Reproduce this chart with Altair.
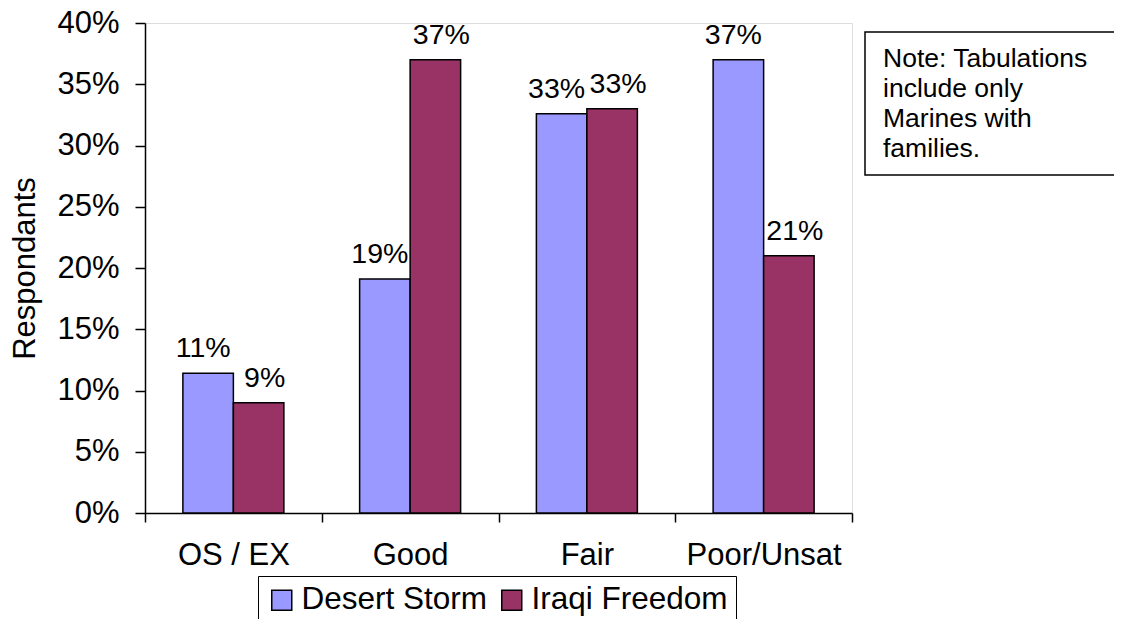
import altair as alt
import pandas as pd

categories = ["OS / EX", "Good", "Fair", "Poor/Unsat"]
series = ["Desert Storm", "Iraqi Freedom"]
desert_storm = [0.114, 0.191, 0.326, 0.370]
iraqi_freedom = [0.090, 0.370, 0.330, 0.210]
ds_labels = ["11%", "19%", "33%", "37%"]
if_labels = ["9%", "37%", "33%", "21%"]
colors = ["#9999FF", "#993366"]
note_lines = ["Note: Tabulations", "include only", "Marines with", "families."]

rows = []
for i, c in enumerate(categories):
    rows.append({"cat": c, "series": series[0], "value": desert_storm[i], "label": ds_labels[i]})
    rows.append({"cat": c, "series": series[1], "value": iraqi_freedom[i], "label": if_labels[i]})
df = pd.DataFrame(rows)

FONT = "Liberation Sans"
W, H = 707, 490

x = alt.X("cat:N", sort=categories, title=None,
          scale=alt.Scale(paddingInner=0, paddingOuter=0),
          axis=alt.Axis(labelAngle=0, labelFontSize=31, labelColor="black", labelPadding=18,
                        tickBand="extent", tickSize=9, tickColor="black", tickWidth=1.5,
                        domainColor="black", domainWidth=1.5, labelFont=FONT))
xoff = alt.XOffset("series:N", sort=series,
                   scale=alt.Scale(paddingInner=0, paddingOuter=0.75))
y = alt.Y("value:Q", title="Respondants",
          scale=alt.Scale(domain=[0, 0.4], nice=False),
          axis=alt.Axis(format=".0%", values=[0, 0.05, 0.1, 0.15, 0.2, 0.25, 0.3, 0.35, 0.4],
                        labelFontSize=31, labelColor="black", labelPadding=16, labelFont=FONT,
                        tickSize=10, tickColor="black", tickWidth=1.5,
                        domainColor="black", domainWidth=1.5, grid=False,
                        titleFontSize=31, titleFontWeight="normal", titleColor="black",
                        titleFont=FONT, titlePadding=15))

color = alt.Color("series:N", sort=series,
                  scale=alt.Scale(domain=series, range=colors),
                  legend=alt.Legend(title=None, orient="none", legendX=113, legendY=553,
                                    direction="horizontal", symbolType="square",
                                    symbolSize=400, symbolStrokeColor="black",
                                    symbolStrokeWidth=1.5, labelFontSize=31.5, labelLimit=0,
                                    labelFont=FONT, labelColor="black", labelOffset=4,
                                    columnPadding=8, strokeColor="black",
                                    fillColor="white", padding=8, symbolOpacity=1))

bars = alt.Chart(df).mark_bar(stroke="black", strokeWidth=1.5, opacity=1).encode(
    x=x, xOffset=xoff, y=y, color=color)

def value_labels(name, shift):
    return alt.Chart(df).transform_filter(alt.datum.series == name).mark_text(
        baseline="alphabetic", dy=-16, dx=shift, fontSize=28.5, font=FONT, color="black"
    ).encode(
        x=alt.X("cat:N", sort=categories), xOffset=alt.XOffset("series:N", sort=series),
        y="value:Q", text="label:N")

texts_ds = value_labels(series[0], -5)
texts_if = value_labels(series[1], 6)

note_df = pd.DataFrame({"note": ["\n".join(note_lines)]})
note_box = alt.Chart(note_df).mark_rect(fill="white", stroke="black", strokeWidth=1.5).encode(
    x=alt.value(720), x2=alt.value(1000), y=alt.value(9), y2=alt.value(152))
note_text = alt.Chart(note_df).mark_text(align="left", baseline="alphabetic", fontSize=26.5,
                                         font=FONT, color="black", lineBreak="\n",
                                         lineHeight=30).encode(
    x=alt.value(738), y=alt.value(44), text="note:N")

chart = alt.layer(bars, texts_ds, texts_if, note_box, note_text).properties(
    width=W, height=H,
    autosize=alt.AutoSizeParams(type="none"),
    padding={"left": 137, "top": 15, "right": 262, "bottom": 106},
).configure_view(stroke=None).configure(font=FONT)

chart.save("out.html", embed_options={"renderer": "svg", "actions": False})
